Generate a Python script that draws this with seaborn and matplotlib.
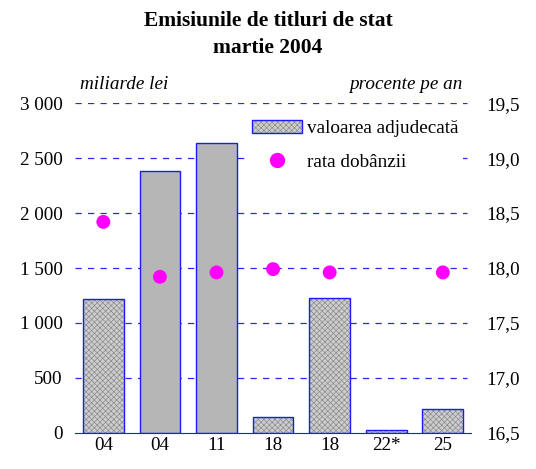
import matplotlib
matplotlib.use("Agg")
import matplotlib.pyplot as plt
import matplotlib.ticker as mticker
from matplotlib.patches import Patch, Rectangle
from matplotlib.lines import Line2D
from matplotlib.legend_handler import HandlerTuple
import numpy as np
import pandas as pd
import seaborn as sns

# data
days = ["04", "04", "11", "18", "18", "22*", "25"]
amount = [1218, 2382, 2636, 145, 1227, 27, 218]          # miliarde lei
rate = [18.42, 17.92, 17.96, 17.99, 17.96, np.nan, 17.96]  # procente pe an
hatched = [True, False, False, True, True, True, True]

df = pd.DataFrame({"pos": range(len(days)), "amount": amount, "rate": rate})

sns.set_style("white")
plt.rcParams["font.family"] = ["Liberation Serif", "DejaVu Serif"]
plt.rcParams["hatch.linewidth"] = 0.5
plt.rcParams["text.color"] = "black"
plt.rcParams["xtick.color"] = "black"
plt.rcParams["ytick.color"] = "black"

BLUE = "#1a1aff"
FS = 13.8

fig = plt.figure(figsize=(5.36, 4.69), dpi=100)
ax = fig.add_axes([0.140, 0.077, 0.739, 0.703])

sns.barplot(data=df, x="pos", y="amount", ax=ax, width=0.72,
            color="#b6b6b6", edgecolor=BLUE, linewidth=1.0,
            saturation=1, zorder=3)
for p, h in list(zip(ax.patches, hatched)):
    if h:
        # hatch colour follows edge colour, so draw the outline separately
        p.set_facecolor("#cdcdcd")
        p.set_edgecolor("#8c8c8c")
        p.set_linewidth(0)
        p.set_hatch("xxxxxx")
        ax.add_patch(Rectangle(p.get_xy(), p.get_width(), p.get_height(),
                               fill=False, edgecolor=BLUE, lw=1.0, zorder=3.5))
    else:
        p.set_edgecolor(BLUE)

ax.set_xlim(-0.5, len(days) - 0.5)
ax.set_ylim(0, 3000)
ax.set_yticks(np.arange(0, 3001, 500))
ax.yaxis.set_major_formatter(mticker.FuncFormatter(lambda v, _: f"{int(v):,}".replace(",", " ")))
ax.set_xticks(range(len(days)))
ax.set_xticklabels(days)
ax.set_xticks(np.arange(-0.5, len(days)), minor=True)
ax.tick_params(axis="x", which="major", length=0, pad=3, labelsize=FS)
ax.tick_params(axis="x", which="minor", length=6, color=BLUE, width=1)
ax.tick_params(axis="y", length=0, pad=9, labelsize=FS)
ax.set_xlabel("")
ax.set_ylabel("")
for s in ["top", "left", "right"]:
    ax.spines[s].set_visible(False)
ax.spines["bottom"].set_color(BLUE)
ax.spines["bottom"].set_zorder(4)
for v in np.arange(500, 3001, 500):
    ax.axhline(v, xmin=0, xmax=0.99, color="#2828f0", lw=0.9,
               dashes=(5, 5), zorder=1)

ax2 = ax.twinx()
sns.scatterplot(data=df, x="pos", y="rate", ax=ax2, color="#ff00ff",
                s=100, edgecolor="none", zorder=5)
ax2.set_ylim(16.5, 19.5)
ax2.set_yticks(np.arange(16.5, 19.51, 0.5))
ax2.yaxis.set_major_formatter(mticker.FuncFormatter(lambda v, _: f"{v:.1f}".replace(".", ",")))
ax2.tick_params(axis="y", length=0, pad=11, labelsize=FS)
ax2.set_ylabel("")
for s in ax2.spines.values():
    s.set_visible(False)

bar_handle = (Patch(facecolor="#cdcdcd", edgecolor="#8c8c8c", hatch="xxxxxx", lw=0),
              Patch(facecolor="none", edgecolor=BLUE, lw=1.0))
dot_handle = Line2D([], [], marker="o", ls="", color="#ff00ff", markersize=10)
leg = ax2.legend([bar_handle, dot_handle], ["valoarea adjudecată", "rata dobânzii"],
                 handler_map={tuple: HandlerTuple(ndivide=1, pad=0)},
                 loc="upper right", bbox_to_anchor=(0.998, 0.985),
                 frameon=True, facecolor="white", edgecolor="white",
                 framealpha=1, fancybox=False, fontsize=FS,
                 handlelength=2.6, handletextpad=0.3, labelspacing=0.85,
                 borderpad=0.1)

fig.text(0.150, 0.811, "miliarde lei", style="italic", fontsize=FS)
fig.text(0.862, 0.811, "procente pe an", style="italic", fontsize=FS, ha="right")
fig.text(0.5, 0.955, "Emisiunile de titluri de stat", ha="center", va="center",
         fontsize=15.5, fontweight="bold")
fig.text(0.5, 0.898, "martie 2004", ha="center", va="center",
         fontsize=15.5, fontweight="bold")

fig.savefig("out.png", dpi=100)
